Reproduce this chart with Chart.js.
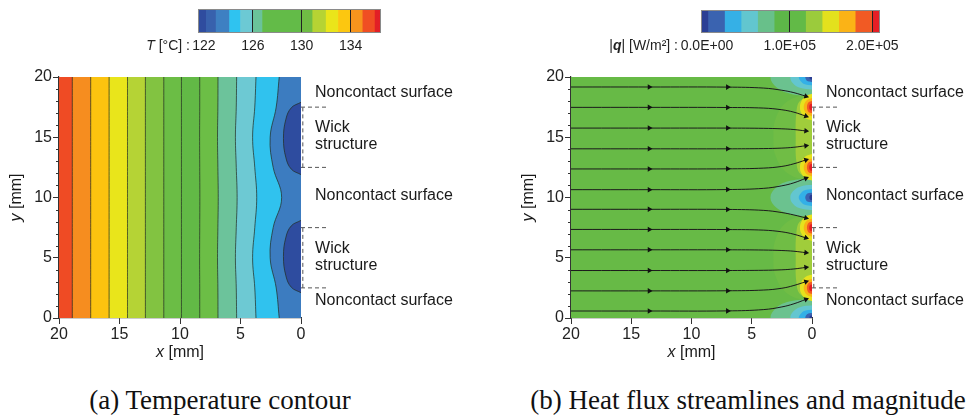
<!doctype html>
<html>
	<head>
		<meta charset="utf-8" />
		<title>Temperature contour and heat flux streamlines</title>
		<script src="https://cdn.jsdelivr.net/npm/chart.js@4.4.1/dist/chart.umd.min.js"></script>
		<style>
			html,
			body {
				margin: 0;
				padding: 0;
				background: #fff;
			}
			body {
				position: relative;
				width: 967px;
				height: 420px;
				overflow: hidden;
			}
			canvas {
				position: absolute;
			}
			#cbTemp { left: 120px; top: 0; }
			#cbFlux { left: 580px; top: 0; }
			#plotTemp { left: 0; top: 60px; }
			#plotFlux { left: 480px; top: 60px; }
			.caption {
				position: absolute;
				top: 385px;
				width: 460px;
				text-align: center;
				white-space: nowrap;
				font: 27px "Liberation Serif", "Times New Roman", serif;
				color: #111;
			}
		</style>
	</head>

	<body>
		<canvas id="cbTemp" width="280" height="60"></canvas>
		<canvas id="cbFlux" width="387" height="60"></canvas>
		<canvas id="plotTemp" width="480" height="320"></canvas>
		<canvas id="plotFlux" width="487" height="320"></canvas>
		<div class="caption" style="left: -10px">(a) Temperature contour</div>
		<div class="caption" style="left: 518px">(b) Heat flux streamlines and magnitude</div>

		<script>
			// ---- colour bars ----
			const tempBarEdges = [121.6, 122.2, 123, 124.1, 125, 126, 126.8, 130, 130.9, 132, 133, 134, 135, 136, 136.4];
			const tempBarColors = ["#2f4c9f", "#3861ad", "#3e80c2", "#2fc3f0", "#6cc9d4", "#6ac39a", "#63bb48", "#6fbd44", "#b6d333", "#eae51a", "#fcc710", "#f7941d", "#f04e23", "#e21f26"];
			const tempBarTicks = [122, 126, 130, 134];

			const fluxBarEdges = [-6e3, 2e3, 22e3, 42e3, 62e3, 82e3, 100e3, 120e3, 140e3, 160e3, 180e3, 200e3, 208e3];
			const fluxBarColors = ["#2b3f94", "#3a63b0", "#35b0e6", "#62c6cf", "#68c08a", "#5db748", "#62ba47", "#9bcb3c", "#e3e11d", "#fbb316", "#f15a24", "#e61e25"];
			const fluxBarTicks = [0, 1e5, 2e5];

			// ---- (a) temperature contours: x [mm] of each isotherm at contourY ----
			const contourY = [0, 2.5, 5, 7.5, 10, 12.5, 15, 17.5, 20];
			const tempContourX = [
				[18.9, 18.9, 18.9, 18.9, 18.9, 18.9, 18.9, 18.9, 18.9],
				[17.38, 17.38, 17.38, 17.38, 17.38, 17.38, 17.38, 17.38, 17.38],
				[15.86, 15.86, 15.86, 15.86, 15.86, 15.86, 15.86, 15.86, 15.86],
				[14.34, 14.34, 14.34, 14.34, 14.34, 14.34, 14.34, 14.34, 14.34],
				[12.86, 12.86, 12.86, 12.86, 12.86, 12.86, 12.86, 12.86, 12.86],
				[11.34, 11.34, 11.34, 11.34, 11.34, 11.34, 11.34, 11.34, 11.34],
				[9.88, 9.88, 9.88, 9.88, 9.88, 9.88, 9.88, 9.88, 9.88],
				[8.37, 8.37, 8.38, 8.37, 8.36, 8.37, 8.38, 8.37, 8.37],
				[6.86, 6.87, 6.9, 6.87, 6.84, 6.87, 6.9, 6.87, 6.86],
				[5.32, 5.35, 5.42, 5.35, 5.28, 5.35, 5.42, 5.35, 5.32],
				[3.72, 3.82, 4.0, 3.82, 3.66, 3.82, 4.0, 3.82, 3.72],
				[1.8, 2.05, 2.55, 2.3, 1.6, 2.3, 2.55, 2.05, 1.8],
			];
			const tempBandColors = ["#ef4b24", "#f68d1f", "#fcc30f", "#e9e51b", "#b5d335", "#82c341", "#6bbd45", "#62b946", "#6cbe46", "#6cc39b", "#6dc9d3", "#30c2ee", "#3c7cc0", "#2e4c9f"];
			// coldest core at the wick: [x, y offset from centre]
			const wickCoreCentres = [5.1, 14.9];
			const wickCoreProfile = [[0, -3.0], [0.8, -2.55], [1.25, -1.6], [1.45, 0], [1.25, 1.6], [0.8, 2.55], [0, 3.0]];

			// ---- (b) heat flux magnitude regions: [x, y offset from centre] ----
			const fluxBackground = "#67ba46";
			const wickCentres = [5, 15];
			const fluxWickZones = [
				{ color: "#70bd45", profile: [[0, -3.7], [2.0, -3.0], [3.0, -1.6], [3.2, 0], [3.0, 1.6], [2.0, 3.0], [0, 3.7]] },
				{ color: "#a0cd3b", profile: [[0, -3.4], [1.0, -3.0], [1.3, -2.0], [1.35, 0], [1.3, 2.0], [1.0, 3.0], [0, 3.4]] },
			];
			const coldSpotCentres = [0, 10, 20];
			const coldLayers = [
				{ color: "#6bc28f", profile: [[0, -1.6], [1.8, -1.38], [2.95, -0.85], [3.45, 0], [2.95, 0.85], [1.8, 1.38], [0, 1.6]] },
				{ color: "#63c6d0", profile: [[0, -1.05], [1.0, -0.9], [1.6, -0.5], [1.8, 0], [1.6, 0.5], [1.0, 0.9], [0, 1.05]] },
				{ color: "#33b0e7", profile: [[0, -0.7], [0.6, -0.6], [0.95, -0.33], [1.1, 0], [0.95, 0.33], [0.6, 0.6], [0, 0.7]] },
				{ color: "#3b64b1", profile: [[0, -0.42], [0.33, -0.36], [0.5, -0.2], [0.56, 0], [0.5, 0.2], [0.33, 0.36], [0, 0.42]] },
				{ color: "#2b3d92", profile: [[0, -0.22], [0.15, -0.18], [0.22, 0], [0.15, 0.18], [0, 0.22]] },
			];
			const hotSpotCentres = [2.5, 7.5, 12.5, 17.5];
			const hotLayers = [
				{ color: "#e6e21d", profile: [[0, -1.1], [0.55, -0.9], [0.9, -0.45], [1.0, 0], [0.9, 0.45], [0.55, 0.9], [0, 1.1]] },
				{ color: "#f9b216", profile: [[0, -0.75], [0.4, -0.6], [0.62, -0.3], [0.68, 0], [0.62, 0.3], [0.4, 0.6], [0, 0.75]] },
				{ color: "#f15a24", profile: [[0, -0.5], [0.28, -0.4], [0.42, 0], [0.28, 0.4], [0, 0.5]] },
				{ color: "#e31f26", profile: [[0, -0.3], [0.16, -0.24], [0.24, 0], [0.16, 0.24], [0, 0.3]] },
			];

			// streamlines: y [mm] at streamX
			const streamX = [20, 13.5, 7, 4, 2.5, 1.5, 0.5];
			const streamY = [
				[19.17, 19.17, 19.16, 19.08, 18.9, 18.7, 18.4],
				[17.48, 17.48, 17.47, 17.42, 17.28, 17.08, 16.75],
				[15.76, 15.76, 15.76, 15.74, 15.7, 15.64, 15.52],
				[14.04, 14.04, 14.04, 14.06, 14.1, 14.17, 14.3],
				[12.37, 12.37, 12.38, 12.44, 12.58, 12.8, 13.12],
				[10.65, 10.65, 10.66, 10.76, 10.97, 11.22, 11.6],
				[9.02, 9.02, 9.01, 8.93, 8.75, 8.55, 8.3],
				[7.35, 7.35, 7.34, 7.29, 7.15, 6.95, 6.65],
				[5.66, 5.66, 5.66, 5.64, 5.6, 5.54, 5.42],
				[3.94, 3.94, 3.94, 3.96, 4.0, 4.07, 4.2],
				[2.25, 2.25, 2.26, 2.32, 2.47, 2.7, 3.02],
				[0.58, 0.58, 0.59, 0.7, 0.92, 1.18, 1.55],
			];
			const arrowAt = [1, 2];

			// ---- annotations right of the plots ----
			const wickRanges = [[2.5, 7.5], [12.5, 17.5]];
			const bracketEnd = -2.2;
			const bracketPost = -0.15;
			const regionLabelX = -1.16;
			const regionLabelText = ["Noncontact surface", "Wick", "structure", "Noncontact surface", "Wick", "structure", "Noncontact surface"];
			const regionLabelY = [18.7, 15.77, 14.36, 10.12, 5.73, 4.32, 1.45];

			const sans = "'Liberation Sans', Arial, Helvetica, sans-serif";
			Chart.defaults.font.family = sans;
			Chart.defaults.font.size = 16;
			Chart.defaults.color = "#222";

			const contourStroke = "rgba(35, 45, 35, 0.8)";

			// draw text made of runs with different font styles
			function drawRuns(ctx, runs, x, y, align, size) {
				const widths = runs.map(([style, t]) => {
					ctx.font = style + " " + size + "px " + sans;
					return ctx.measureText(t).width;
				});
				const total = widths.reduce((a, b) => a + b, 0);
				let cx = align === "center" ? x - total / 2 : align === "right" ? x - total : x;
				ctx.textAlign = "left";
				ctx.textBaseline = "middle";
				runs.forEach(([style, t], i) => {
					ctx.font = style + " " + size + "px " + sans;
					ctx.fillText(t, cx, y);
					cx += widths[i];
				});
			}

			// ---- colour bar charts ----
			function colorBar(id, edges, colors, ticks, fmt, pad, prefix, prefixGap) {
				return new Chart(document.getElementById(id), {
					type: "bar",
					data: {
						labels: ["c"],
						datasets: [
							{
								data: colors.map((c, i) => ({ x: [edges[i], edges[i + 1]], y: "c" })),
								backgroundColor: colors,
								borderWidth: 0,
								barPercentage: 1,
								categoryPercentage: 1,
							},
						],
					},
					options: {
						indexAxis: "y",
						responsive: false,
						animation: false,
						events: [],
						layout: { padding: pad },
						plugins: { legend: { display: false }, tooltip: { enabled: false } },
						scales: {
							x: {
								type: "linear",
								min: edges[0],
								max: edges[edges.length - 1],
								afterBuildTicks: (s) => {
									s.ticks = ticks.map((v) => ({ value: v }));
								},
								afterFit: (s) => {
									s.height = 28;
									s.paddingLeft = 0;
									s.paddingRight = 0;
								},
								ticks: { callback: fmt, padding: 6, font: { size: 14 }, color: "#222", maxRotation: 0, autoSkip: false },
								grid: {
									z: 1,
									drawTicks: false,
									lineWidth: 1,
									color: (c) => (c.tick && c.tick.value !== ticks[0] ? "#222" : "rgba(0,0,0,0)"),
								},
								border: { display: false },
							},
							y: { display: false },
						},
					},
					plugins: [
						{
							id: "barFrame",
							afterDraw(chart) {
								const { ctx, chartArea: a } = chart;
								ctx.save();
								ctx.strokeStyle = "#8a8a8a";
								ctx.lineWidth = 1;
								ctx.strokeRect(a.left - 0.5, a.top - 0.5, a.right - a.left + 1, a.bottom - a.top + 1);
								ctx.fillStyle = "#222";
								drawRuns(ctx, prefix, a.left - prefixGap, 46, "right", 14);
								ctx.restore();
							},
						},
					],
				});
			}

			function sciLabel(v) {
				if (v === 0) return "0.0E+00";
				const e = Math.floor(Math.log10(Math.abs(v)));
				const m = v / Math.pow(10, e);
				return m.toFixed(1) + "E" + (e < 0 ? "-" : "+") + String(Math.abs(e)).padStart(2, "0");
			}

			colorBar("cbTemp", tempBarEdges, tempBarColors, tempBarTicks, (v) => String(v), { left: 79, right: 20, top: 10, bottom: 0 }, [["italic", "T"], ["normal", " [°C] :"]], 9);
			colorBar("cbFlux", fluxBarEdges, fluxBarColors, fluxBarTicks, sciLabel, { left: 122, right: 88, top: 11, bottom: 0 }, [["normal", "|"], ["italic bold", "q"], ["normal", "| [W/m²] :"]], 24);

			// ---- field plots ----
			// region between a curve x(y) and the wall x = 0
			function wallRegion(points, color, stroke) {
				return {
					data: points,
					indexAxis: "y",
					fill: { value: 0 },
					backgroundColor: color,
					borderColor: stroke || "rgba(0,0,0,0)",
					borderWidth: stroke ? 0.9 : 0,
					tension: 0.4,
					pointRadius: 0,
				};
			}

			function shape(profile, centre) {
				return profile.map(([x, dy]) => ({ x, y: centre + dy }));
			}

			function dashed(points, axis) {
				return {
					data: points,
					indexAxis: axis,
					borderColor: "#555",
					borderWidth: 1,
					borderDash: [4, 3],
					fill: false,
					tension: 0,
					clip: false,
					pointRadius: 0,
				};
			}

			function bracketSets() {
				const sets = [];
				wickRanges.forEach(([lo, hi]) => {
					[lo, hi].forEach((v) => sets.push(dashed([{ x: 0, y: v }, { x: bracketEnd, y: v }], "x")));
					sets.push(dashed([{ x: bracketPost, y: lo }, { x: bracketPost, y: hi }], "y"));
				});
				return sets;
			}

			// first dataset in the list is painted first
			function paintOrder(sets) {
				sets.forEach((d, i) => (d.order = sets.length - i));
				return sets;
			}

			const plotText = {
				id: "plotText",
				afterDraw(chart) {
					const { ctx, chartArea: a, scales } = chart;
					ctx.save();
					// minor ticks on y
					ctx.strokeStyle = "#333";
					ctx.lineWidth = 1;
					for (let v = 1; v < 20; v++) {
						if (v % 5 === 0) continue;
						const py = Math.round(scales.y.getPixelForValue(v)) + 0.5;
						ctx.beginPath();
						ctx.moveTo(a.left - 3, py);
						ctx.lineTo(a.left, py);
						ctx.stroke();
					}
					ctx.fillStyle = "#1a1a1a";
					ctx.font = "16px " + sans;
					ctx.textAlign = "left";
					ctx.textBaseline = "middle";
					regionLabelText.forEach((t, i) => {
						ctx.fillText(t, scales.x.getPixelForValue(regionLabelX), scales.y.getPixelForValue(regionLabelY[i]));
					});
					drawRuns(ctx, [["italic", "x"], ["normal", " [mm]"]], (a.left + a.right) / 2, a.bottom + 35, "center", 16);
					ctx.translate(a.left - 42, (a.top + a.bottom) / 2);
					ctx.rotate(-Math.PI / 2);
					drawRuns(ctx, [["italic", "y"], ["normal", " [mm]"]], 0, 0, "center", 16);
					ctx.restore();
				},
			};

			function fieldOptions(pad) {
				const axis = (extra) =>
					Object.assign(
						{
							type: "linear",
							min: 0,
							max: 20,
							ticks: { stepSize: 5, padding: 1, color: "#222", font: { size: 16 } },
							grid: { drawOnChartArea: false, tickLength: 6, tickColor: "#333" },
							border: { color: "#333", width: 1.2 },
						},
						extra,
					);
				return {
					responsive: false,
					animation: false,
					events: [],
					layout: { padding: pad },
					plugins: { legend: { display: false }, tooltip: { enabled: false } },
					scales: {
						x: axis({
							reverse: true,
							afterFit: (s) => {
								s.height = 62;
								s.paddingLeft = 0;
								s.paddingRight = 0;
							},
						}),
						y: axis({
							afterFit: (s) => {
								s.width = 59;
								s.paddingTop = 0;
								s.paddingBottom = 0;
							},
						}),
					},
				};
			}

			// (a) temperature
			const tempSets = [wallRegion([{ x: 20, y: 0 }, { x: 20, y: 20 }], tempBandColors[0])];
			tempContourX.forEach((xs, k) => {
				tempSets.push(wallRegion(contourY.map((y, j) => ({ x: xs[j], y })), tempBandColors[k + 1], contourStroke));
			});
			wickCoreCentres.forEach((c) => {
				tempSets.push(wallRegion(shape(wickCoreProfile, c), tempBandColors[tempBandColors.length - 1], contourStroke));
			});
			tempSets.push(...bracketSets());

			new Chart(document.getElementById("plotTemp"), {
				type: "line",
				data: { datasets: paintOrder(tempSets) },
				options: fieldOptions({ left: 0, right: 179, top: 17, bottom: 0 }),
				plugins: [plotText],
			});

			// (b) heat flux
			const fluxSets = [wallRegion([{ x: 20, y: 0 }, { x: 20, y: 20 }], fluxBackground)];
			fluxWickZones.forEach((z) => wickCentres.forEach((c) => fluxSets.push(wallRegion(shape(z.profile, c), z.color))));
			coldLayers.forEach((l) => coldSpotCentres.forEach((c) => fluxSets.push(wallRegion(shape(l.profile, c), l.color))));
			hotLayers.forEach((l) => hotSpotCentres.forEach((c) => fluxSets.push(wallRegion(shape(l.profile, c), l.color))));

			const arrowPts = [];
			const arrowRot = [];
			streamY.forEach((ys) => {
				fluxSets.push({
					data: streamX.map((x, j) => ({ x, y: ys[j] })),
					borderColor: "#1b1b1b",
					borderWidth: 1,
					tension: 0.4,
					fill: false,
					pointRadius: 0,
				});
				arrowAt.forEach((j) => {
					arrowPts.push({ x: streamX[j], y: ys[j] });
					arrowRot.push(90);
				});
				const n = streamX.length - 1;
				arrowPts.push({ x: streamX[n], y: ys[n] });
				arrowRot.push((Math.atan2(streamX[n - 1] - streamX[n], ys[n] - ys[n - 1]) * 180) / Math.PI);
			});
			fluxSets.push({
				data: arrowPts,
				showLine: false,
				pointStyle: "triangle",
				pointRadius: 3.2,
				pointRotation: arrowRot,
				pointBackgroundColor: "#111",
				pointBorderColor: "#111",
				pointBorderWidth: 0,
			});
			fluxSets.push(...bracketSets());

			new Chart(document.getElementById("plotFlux"), {
				type: "line",
				data: { datasets: paintOrder(fluxSets) },
				options: fieldOptions({ left: 32, right: 155, top: 17, bottom: 0 }),
				plugins: [plotText],
			});
		</script>
	</body>
</html>
